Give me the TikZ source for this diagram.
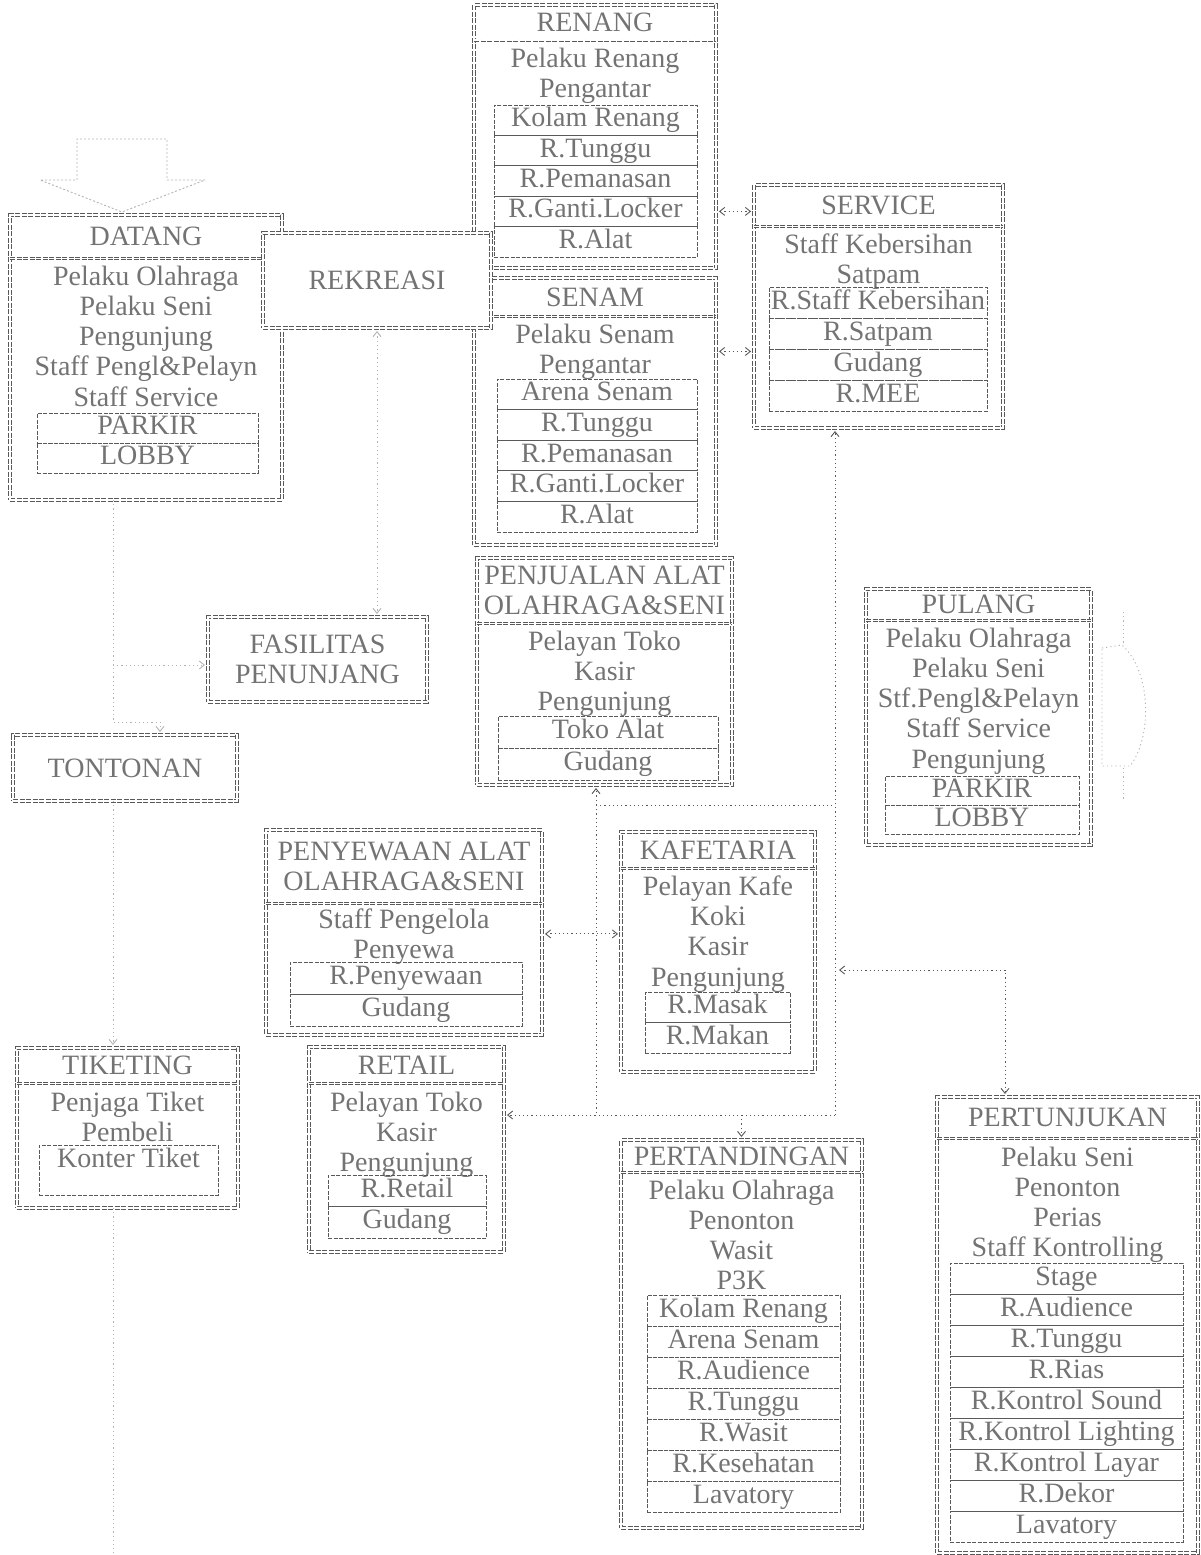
\documentclass[tikz,border=0pt]{standalone}
\usepackage{fontspec}
\setmainfont{Liberation Serif}
\usetikzlibrary{positioning,arrows.meta}
\definecolor{garis}{gray}{0.35}
\definecolor{tulisan}{gray}{0.45}
\newcommand{\huruf}{\fontsize{28}{30.3}\selectfont}
\tikzset{
  bingkai/.style 2 args={draw=garis, line width=0.9pt, double, double distance=2.4pt, dash pattern=on 5pt off 1.5pt, anchor=north west, minimum width=#1pt, minimum height=#2pt, inner sep=0pt, outer sep=0pt, text=tulisan, font=\huruf, align=center},
  judul/.style={text=tulisan, font=\huruf, align=center, inner sep=0pt, minimum height=#1pt},
  isi/.style={text=tulisan, font=\huruf, align=center, inner sep=0pt},
  sekat/.style={draw=garis, line width=0.8pt, double, double distance=1.8pt, dash pattern=on 5pt off 1.5pt},
  ruang/.style 2 args={draw=garis, line width=0.8pt, dash pattern=on 4pt off 1.5pt, minimum width=#1pt, minimum height=#2pt, inner sep=0pt, outer sep=0pt, text=tulisan, font=\huruf, text height=19pt, text depth=6pt},
  alur/.style={draw=garis, line width=0.9pt, dash pattern=on 1.2pt off 3pt},
  alur tipis/.style={alur, draw=garis!45},
  >={Straight Barb[length=5pt,width=8pt]}
}
\begin{document}
\begin{tikzpicture}[x=1pt,y=-1pt]
\useasboundingbox (0,0) rectangle (1200,1555);
\draw[alur tipis, dash pattern=on 2pt off 2pt] (77,180) -- (77,139) -- (167,139) -- (167,180) -- (205,180) -- (122,212) -- (40,180) -- cycle;

\node[bingkai={272}{285}] (Datang) at (10,215) {};
\node[judul=43, below=0pt of Datang.north] (DatangT) {DATANG};
\draw[sekat] (DatangT.south -| Datang.west) -- (DatangT.south -| Datang.east);
\node[isi, below=7pt of DatangT] (DatangP) {Pelaku Olahraga\\Pelaku Seni\\Pengunjung\\Staff Pengl\&Pelayn\\Staff Service};
\node[ruang={221}{30}, anchor=north] (DatangR1) at (147.5,413) {PARKIR};
\node[ruang={221}{30}, below=0pt of DatangR1] (DatangR2) {LOBBY};

\node[bingkai={242}{263}] (Renang) at (474,5) {};
\node[judul=35, below=0pt of Renang.north] (RenangT) {RENANG};
\draw[sekat] (RenangT.south -| Renang.west) -- (RenangT.south -| Renang.east);
\node[isi, below=7pt of RenangT] (RenangP) {Pelaku Renang\\Pengantar};
\node[ruang={203}{30.4}, anchor=north] (RenangR1) at (595.5,105) {Kolam Renang};
\node[ruang={203}{30.4}, below=0pt of RenangR1] (RenangR2) {R.Tunggu};
\node[ruang={203}{30.4}, below=0pt of RenangR2] (RenangR3) {R.Pemanasan};
\node[ruang={203}{30.4}, below=0pt of RenangR3] (RenangR4) {R.Ganti.Locker};
\node[ruang={203}{30.4}, below=0pt of RenangR4] (RenangR5) {R.Alat};

\node[bingkai={242}{267}] (Senam) at (474,278) {};
\node[judul=38, below=0pt of Senam.north] (SenamT) {SENAM};
\draw[sekat] (SenamT.south -| Senam.west) -- (SenamT.south -| Senam.east);
\node[isi, below=7pt of SenamT] (SenamP) {Pelaku Senam\\Pengantar};
\node[ruang={200}{30.6}, anchor=north] (SenamR1) at (597,379) {Arena Senam};
\node[ruang={200}{30.6}, below=0pt of SenamR1] (SenamR2) {R.Tunggu};
\node[ruang={200}{30.6}, below=0pt of SenamR2] (SenamR3) {R.Pemanasan};
\node[ruang={200}{30.6}, below=0pt of SenamR3] (SenamR4) {R.Ganti.Locker};
\node[ruang={200}{30.6}, below=0pt of SenamR4] (SenamR5) {R.Alat};

\node[bingkai={228}{95}, fill=white] (Rekreasi) at (263,233) {REKREASI};

\node[bingkai={249}{243}] (Service) at (754,185) {};
\node[judul=41, below=0pt of Service.north] (ServiceT) {SERVICE};
\draw[sekat] (ServiceT.south -| Service.west) -- (ServiceT.south -| Service.east);
\node[isi, below=7pt of ServiceT] (ServiceP) {Staff Kebersihan\\Satpam};
\node[ruang={218}{31}, anchor=north] (ServiceR1) at (878,287) {R.Staff Kebersihan};
\node[ruang={218}{31}, below=0pt of ServiceR1] (ServiceR2) {R.Satpam};
\node[ruang={218}{31}, below=0pt of ServiceR2] (ServiceR3) {Gudang};
\node[ruang={218}{31}, below=0pt of ServiceR3] (ServiceR4) {R.MEE};

\node[bingkai={255}{227}] (Penjualan) at (477,558) {};
\node[judul=65, below=0pt of Penjualan.north] (PenjualanT) {PENJUALAN ALAT\\OLAHRAGA\&SENI};
\draw[sekat] (PenjualanT.south -| Penjualan.west) -- (PenjualanT.south -| Penjualan.east);
\node[isi, below=7pt of PenjualanT] (PenjualanP) {Pelayan Toko\\Kasir\\Pengunjung};
\node[ruang={220}{32}, anchor=north] (PenjualanR1) at (608,716) {Toko Alat};
\node[ruang={220}{32}, below=0pt of PenjualanR1] (PenjualanR2) {Gudang};

\node[bingkai={225}{256}] (Pulang) at (866,589) {};
\node[judul=31, below=0pt of Pulang.north] (PulangT) {PULANG};
\draw[sekat] (PulangT.south -| Pulang.west) -- (PulangT.south -| Pulang.east);
\node[isi, below=7pt of PulangT] (PulangP) {Pelaku Olahraga\\Pelaku Seni\\Stf.Pengl\&Pelayn\\Staff Service\\Pengunjung};
\node[ruang={194}{29}, anchor=north] (PulangR1) at (982,776) {PARKIR};
\node[ruang={194}{29}, below=0pt of PulangR1] (PulangR2) {LOBBY};
\draw[alur tipis] (1102,648) -- (1122,645) .. controls (1152,672) and (1152,738) .. (1130,766) -- (1102,766) -- cycle;
\draw[alur tipis] (1123,612) -- (1123,645);
\draw[alur tipis] (1123,768) -- (1123,800);

\node[bingkai={219}{85}] (Fasilitas) at (208,617) {FASILITAS\\PENUNJANG};
\node[bingkai={224}{66}] (Tontonan) at (13,735) {TONTONAN};

\node[bingkai={276}{205}] (Penyewaan) at (266,830) {};
\node[judul=73, below=0pt of Penyewaan.north] (PenyewaanT) {PENYEWAAN ALAT\\OLAHRAGA\&SENI};
\draw[sekat] (PenyewaanT.south -| Penyewaan.west) -- (PenyewaanT.south -| Penyewaan.east);
\node[isi, below=5pt of PenyewaanT] (PenyewaanP) {Staff Pengelola\\Penyewa};
\node[ruang={232}{32}, anchor=north] (PenyewaanR1) at (406,962) {R.Penyewaan};
\node[ruang={232}{32}, below=0pt of PenyewaanR1] (PenyewaanR2) {Gudang};

\node[bingkai={194}{240}] (Kafetaria) at (621,832) {};
\node[judul=36, below=0pt of Kafetaria.north] (KafetariaT) {KAFETARIA};
\draw[sekat] (KafetariaT.south -| Kafetaria.west) -- (KafetariaT.south -| Kafetaria.east);
\node[isi, below=7pt of KafetariaT] (KafetariaP) {Pelayan Kafe\\Koki\\Kasir\\Pengunjung};
\node[ruang={145}{30.5}, anchor=north] (KafetariaR1) at (717.5,992) {R.Masak};
\node[ruang={145}{30.5}, below=0pt of KafetariaR1] (KafetariaR2) {R.Makan};

\node[bingkai={221}{160}] (Tiketing) at (17,1048) {};
\node[judul=35, below=0pt of Tiketing.north] (TiketingT) {TIKETING};
\draw[sekat] (TiketingT.south -| Tiketing.west) -- (TiketingT.south -| Tiketing.east);
\node[isi, below=8pt of TiketingT] (TiketingP) {Penjaga Tiket\\Pembeli};
\node[ruang={179}{50}, anchor=north, text depth=24pt] (TiketingR1) at (128.5,1145) {Konter Tiket};

\node[bingkai={195}{205}] (Retail) at (309,1047) {};
\node[judul=36, below=0pt of Retail.north] (RetailT) {RETAIL};
\draw[sekat] (RetailT.south -| Retail.west) -- (RetailT.south -| Retail.east);
\node[isi, below=8pt of RetailT] (RetailP) {Pelayan Toko\\Kasir\\Pengunjung};
\node[ruang={158}{31.5}, anchor=north] (RetailR1) at (407,1175) {R.Retail};
\node[ruang={158}{31.5}, below=0pt of RetailR1] (RetailR2) {Gudang};

\node[bingkai={241}{388}] (Pertandingan) at (621,1140) {};
\node[judul=32, below=0pt of Pertandingan.north] (PertandinganT) {PERTANDINGAN};
\draw[sekat] (PertandinganT.south -| Pertandingan.west) -- (PertandinganT.south -| Pertandingan.east);
\node[isi, below=7pt of PertandinganT] (PertandinganP) {Pelaku Olahraga\\Penonton\\Wasit\\P3K};
\node[ruang={193}{31}, anchor=north] (PertandinganR1) at (743.5,1295) {Kolam Renang};
\node[ruang={193}{31}, below=0pt of PertandinganR1] (PertandinganR2) {Arena Senam};
\node[ruang={193}{31}, below=0pt of PertandinganR2] (PertandinganR3) {R.Audience};
\node[ruang={193}{31}, below=0pt of PertandinganR3] (PertandinganR4) {R.Tunggu};
\node[ruang={193}{31}, below=0pt of PertandinganR4] (PertandinganR5) {R.Wasit};
\node[ruang={193}{31}, below=0pt of PertandinganR5] (PertandinganR6) {R.Kesehatan};
\node[ruang={193}{31}, below=0pt of PertandinganR6] (PertandinganR7) {Lavatory};

\node[bingkai={261}{456}] (Pertunjukan) at (937,1097) {};
\node[judul=41, below=0pt of Pertunjukan.north] (PertunjukanT) {PERTUNJUKAN};
\draw[sekat] (PertunjukanT.south -| Pertunjukan.west) -- (PertunjukanT.south -| Pertunjukan.east);
\node[isi, below=8pt of PertunjukanT] (PertunjukanP) {Pelaku Seni\\Penonton\\Perias\\Staff Kontrolling};
\node[ruang={233}{31}, anchor=north] (PertunjukanR1) at (1066.5,1263) {Stage};
\node[ruang={233}{31}, below=0pt of PertunjukanR1] (PertunjukanR2) {R.Audience};
\node[ruang={233}{31}, below=0pt of PertunjukanR2] (PertunjukanR3) {R.Tunggu};
\node[ruang={233}{31}, below=0pt of PertunjukanR3] (PertunjukanR4) {R.Rias};
\node[ruang={233}{31}, below=0pt of PertunjukanR4] (PertunjukanR5) {R.Kontrol Sound};
\node[ruang={233}{31}, below=0pt of PertunjukanR5] (PertunjukanR6) {R.Kontrol Lighting};
\node[ruang={233}{31}, below=0pt of PertunjukanR6] (PertunjukanR7) {R.Kontrol Layar};
\node[ruang={233}{31}, below=0pt of PertunjukanR7] (PertunjukanR8) {R.Dekor};
\node[ruang={233}{31}, below=0pt of PertunjukanR8] (PertunjukanR9) {Lavatory};

\coordinate (simpulA) at (835,805);
\coordinate (simpulB) at (835,1115);
\coordinate (simpulC) at (596,805);
\coordinate (simpulD) at (596,1115);
\coordinate (simpulE) at (835,970);
\coordinate (simpulF) at (1005,970);
\coordinate (kiriA) at (113,665);
\coordinate (kiriB) at (113,722);
\coordinate (kiriC) at (160,722);
\coordinate (kiriD) at (113,1553);

\draw[alur, <->, shorten >=3pt, shorten <=3pt] (RenangR4 -| Renang.east) -- (RenangR4 -| Service.west);
\draw[alur, <->, shorten >=3pt, shorten <=3pt] (SenamP -| Senam.east) -- (SenamP -| Service.west);
\draw[alur, ->, shorten >=3pt] (simpulB) -- (simpulA) -- (simpulA |- Service.south);
\draw[alur, ->, shorten >=3pt] (simpulC) -- (simpulC |- Penjualan.south);
\draw[alur] (simpulC) -- (simpulA);
\draw[alur] (simpulC) -- (simpulD);
\draw[alur, ->, shorten >=3pt] (simpulB) -- (simpulB -| Retail.east);
\draw[alur, ->, shorten >=3pt] (simpulB -| Pertandingan.north) -- (Pertandingan.north);
\draw[alur, <->, shorten <=4pt, shorten >=3pt] (simpulE) -- (simpulF) -- (simpulF |- Pertunjukan.north);
\draw[alur, <->, shorten >=3pt, shorten <=3pt] (KafetariaP -| Penyewaan.east) -- (KafetariaP -| Kafetaria.west);
\draw[alur tipis, <->, shorten >=3pt, shorten <=3pt] (Rekreasi.south) -- (Rekreasi.south |- Fasilitas.north);
\draw[alur tipis] (Datang.south -| kiriA) -- (kiriB) -- (kiriC);
\draw[alur tipis, ->, shorten >=3pt] (kiriA) -- (kiriA -| Fasilitas.west);
\draw[alur tipis, ->, shorten >=3pt] (kiriC) -- (kiriC |- Tontonan.north);
\draw[alur tipis, ->, shorten >=3pt] (Tontonan.south -| kiriA) -- (Tiketing.north -| kiriA);
\draw[alur tipis] (Tiketing.south -| kiriA) -- (kiriD);
\end{tikzpicture}
\end{document}
